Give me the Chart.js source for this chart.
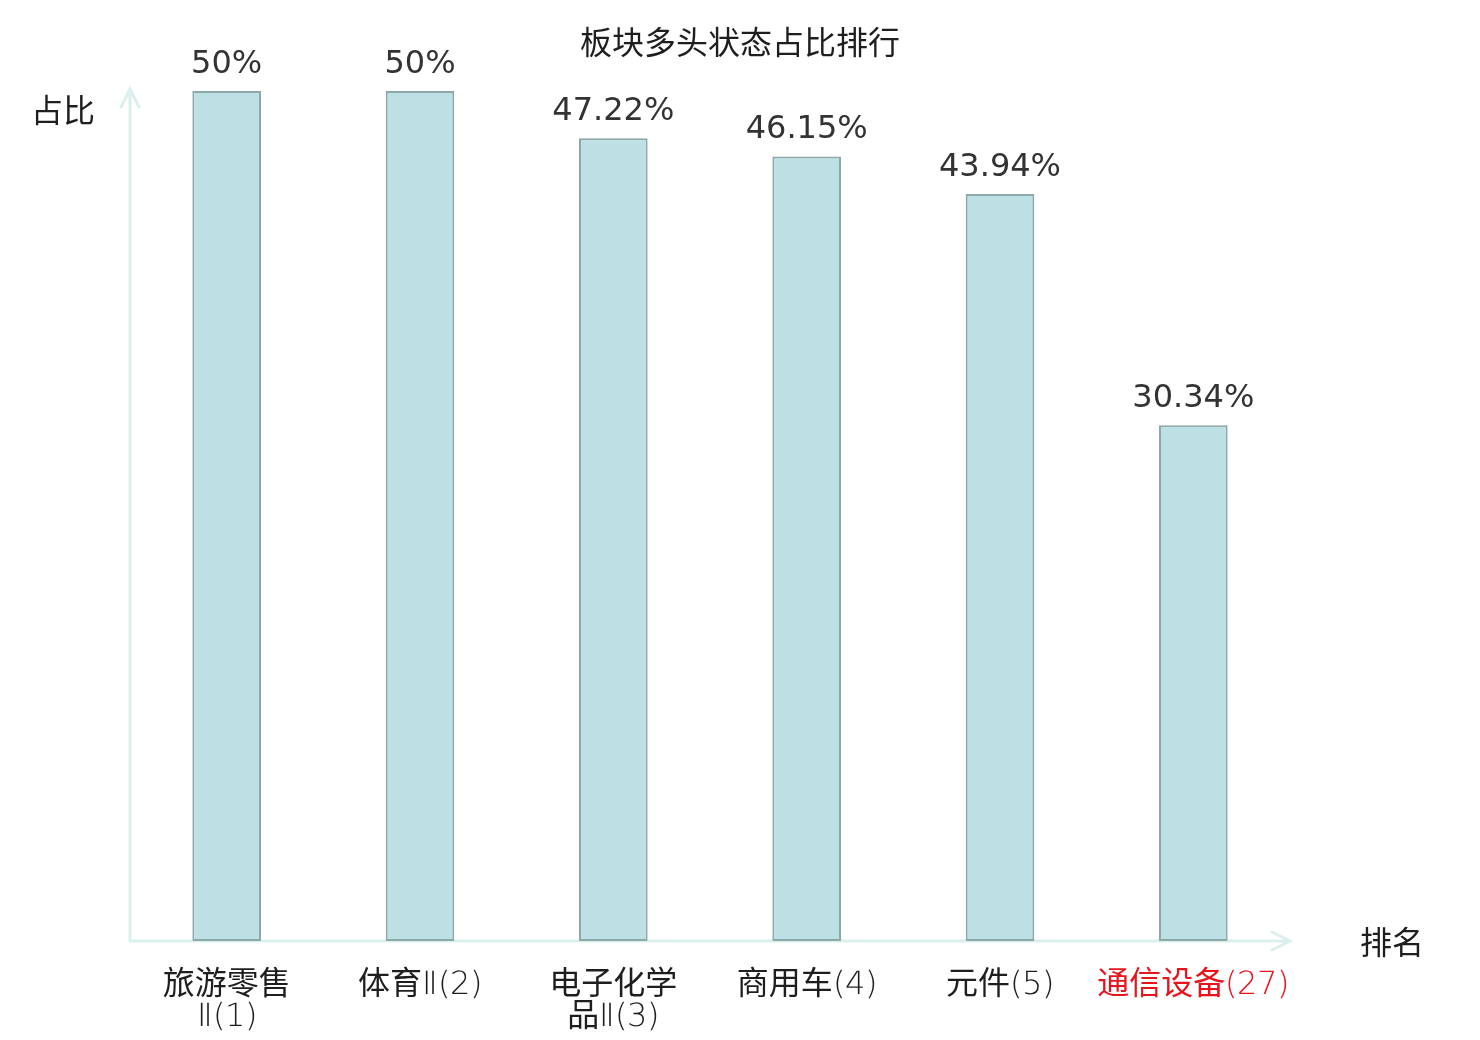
<!DOCTYPE html>
<html>
<head>
<meta charset="utf-8">
<script src="https://cdn.jsdelivr.net/npm/chart.js@4.4.1/dist/chart.umd.min.js"></script>
<style>
  html, body { margin: 0; padding: 0; background: #fff; }
  #wrap { width: 1480px; height: 1040px; }
  /* thin latin digits for tick labels, CJK stays regular */
  @font-face {
    font-family: "TickLatin";
    src: local("DejaVu Sans ExtraLight"), local("DejaVuSans-ExtraLight");
    unicode-range: U+0000-00FF, U+2160-2188;
  }
</style>
</head>
<body>
<div id="wrap"><canvas id="chart" width="1480" height="1040"></canvas></div>
<script>
// chart data
const categories = [
  ['旅游零售', 'Ⅱ(1)'],
  '体育Ⅱ(2)',
  ['电子化学', '品Ⅱ(3)'],
  '商用车(4)',
  '元件(5)',
  '通信设备(27)'
];
const ratios = [50, 50, 47.22, 46.15, 43.94, 30.34];
const ratioLabels = ['50%', '50%', '47.22%', '46.15%', '43.94%', '30.34%'];
const highlightIndex = 5;

const titleText = '板块多头状态占比排行';
const yAxisName = '占比';
const xAxisName = '排名';

const cjkFont = '"Noto Sans CJK SC", "DejaVu Sans", sans-serif';
const tickFont = '"TickLatin", "Noto Sans CJK SC", sans-serif';
const axisColor = '#daf0ed';

// draws arrow axes, titles and value labels
const decorPlugin = {
  id: 'decor',
  beforeDatasetsDraw(chart) {
    const ctx = chart.ctx;
    const area = chart.chartArea;
    ctx.save();
    ctx.strokeStyle = axisColor;
    ctx.lineWidth = 3;
    ctx.lineCap = 'round';
    // y axis
    ctx.beginPath();
    ctx.moveTo(area.left, area.bottom);
    ctx.lineTo(area.left, area.top - 2);
    ctx.moveTo(area.left - 9, area.top + 16);
    ctx.lineTo(area.left, area.top - 2);
    ctx.lineTo(area.left + 9, area.top + 16);
    // x axis
    ctx.moveTo(area.left, area.bottom);
    ctx.lineTo(area.right, area.bottom);
    ctx.moveTo(area.right - 18, area.bottom - 9);
    ctx.lineTo(area.right, area.bottom);
    ctx.lineTo(area.right - 18, area.bottom + 9);
    ctx.stroke();
    ctx.restore();
  },
  afterDatasetsDraw(chart) {
    const ctx = chart.ctx;
    ctx.save();
    ctx.textAlign = 'center';
    ctx.textBaseline = 'middle';

    ctx.fillStyle = '#1e1e1e';
    ctx.font = '32px ' + cjkFont;
    ctx.fillText(titleText, 740, 42);
    ctx.fillText(yAxisName, 63, 110);
    ctx.fillText(xAxisName, 1392, 942);

    ctx.fillStyle = '#333';
    ctx.font = '32px "DejaVu Sans", sans-serif';
    ctx.textBaseline = 'alphabetic';
    const meta = chart.getDatasetMeta(0);
    meta.data.forEach((bar, i) => {
      ctx.fillText(ratioLabels[i], bar.x, bar.y - 18);
    });
    ctx.restore();
  }
};

function drawChart() {
  new Chart(document.getElementById('chart'), {
    type: 'bar',
    data: {
      labels: categories,
      datasets: [{
        data: ratios,
        backgroundColor: '#bce0e3',
        borderColor: '#8ca8aa',
        borderWidth: 2,
        borderSkipped: false,
        categoryPercentage: 1,
        barPercentage: 0.355
      }]
    },
    options: {
      responsive: false,
      animation: false,
      layout: { padding: { left: 130, right: 190, top: 91, bottom: -23 } },
      plugins: {
        legend: { display: false },
        tooltip: { enabled: false }
      },
      scales: {
        y: {
          display: false,
          min: 0,
          max: 50
        },
        x: {
          grid: { display: false, drawTicks: false },
          border: { display: false },
          ticks: {
            autoSkip: false,
            maxRotation: 0,
            padding: 29,
            font: { size: 32, family: tickFont, lineHeight: 1.0 },
            color: (c) => c.index === highlightIndex ? '#e8141c' : '#1e1e1e'
          }
        }
      }
    },
    plugins: [decorPlugin]
  });
}

document.fonts.load('32px "TickLatin"', '(12)Ⅱ').then(drawChart, drawChart);
</script>
</body>
</html>
